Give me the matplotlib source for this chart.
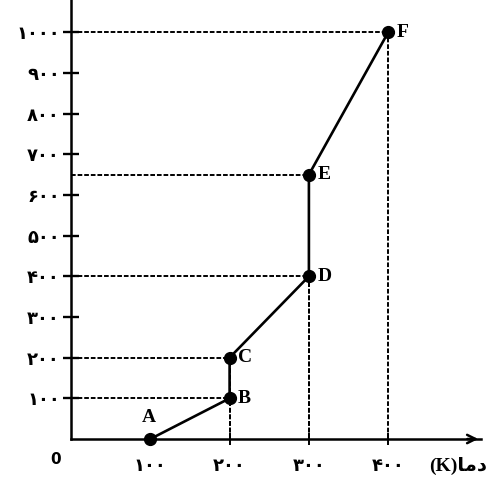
import matplotlib
matplotlib.use("Agg")
import matplotlib.pyplot as plt

# Data
labels = ["A", "B", "C", "D", "E", "F"]
xs = [100, 200, 200, 300, 300, 400]
ys = [0, 100, 200, 400, 650, 1000]
yticks = [100, 200, 300, 400, 500, 600, 700, 800, 900, 1000]
ytick_labels = ["۱۰۰", "۲۰۰", "۳۰۰", "۴۰۰", "۵۰۰", "۶۰۰", "۷۰۰", "۸۰۰", "۹۰۰", "۱۰۰۰"]
xticks = [100, 200, 300, 400]
xtick_labels = ["۱۰۰", "۲۰۰", "۳۰۰", "۴۰۰"]
xlabel_text = "(K)" + "\uFE8E\uFEE3\u062F"  # (K)دما in visual order
origin_label = "0"

fig = plt.figure(figsize=(4.92, 4.79), dpi=100)
ax = fig.add_axes([71 / 492, 40 / 479, 410 / 492, 439 / 479])
ax.set_xlim(0, 410 / 0.793)
ax.set_ylim(0, 439 / 0.4067)

for s in ["top", "right"]:
    ax.spines[s].set_visible(False)
for s in ["left", "bottom"]:
    ax.spines[s].set_linewidth(1.8)

dash = (0, (2.4, 1.0))
for x, y in zip(xs, ys):
    if y > 0:
        ax.plot([0, x], [y, y], color="black", lw=1.4, linestyle=dash, zorder=2)
        ax.plot([x, x], [0, y], color="black", lw=1.4, linestyle=dash, zorder=2)

ax.plot(xs, ys, color="black", lw=1.9, marker="o", markersize=8.5, zorder=3, clip_on=False)

for lab, x, y in zip(labels, xs, ys):
    if lab == "A":
        ax.annotate(lab, (x, y), xytext=(-1, 9), textcoords="offset points",
                    ha="center", va="bottom", fontsize=14, fontweight="bold",
                    family="Liberation Serif")
    else:
        ax.annotate(lab, (x, y), xytext=(6, 0), textcoords="offset points",
                    ha="left", va="center", fontsize=14, fontweight="bold",
                    family="Liberation Serif")

ax.set_yticks(yticks)
ax.set_yticklabels(ytick_labels, fontsize=13, fontweight="bold", family="DejaVu Sans")
ax.set_xticks(xticks)
ax.set_xticklabels(xtick_labels, fontsize=13, fontweight="bold", family="DejaVu Sans")
ax.tick_params(axis="y", direction="inout", length=12, width=1.7, pad=2)
ax.tick_params(axis="x", direction="inout", length=8, width=1.4, pad=9)

# x-axis arrow
ax.annotate("", xy=(1.0, 0), xytext=(0.96, 0), xycoords="axes fraction",
            arrowprops=dict(arrowstyle="->", lw=1.8, color="black",
                            mutation_scale=15), annotation_clip=False)

ax.text(-0.025, -0.03, origin_label, transform=ax.transAxes, ha="right", va="top",
        fontsize=11, fontweight="bold")
ax.text(0.873, -0.04, xlabel_text, transform=ax.transAxes, ha="left", va="top",
        fontsize=14, fontweight="bold", family=["Liberation Serif", "DejaVu Sans"])

fig.savefig("out.png", dpi=100)
